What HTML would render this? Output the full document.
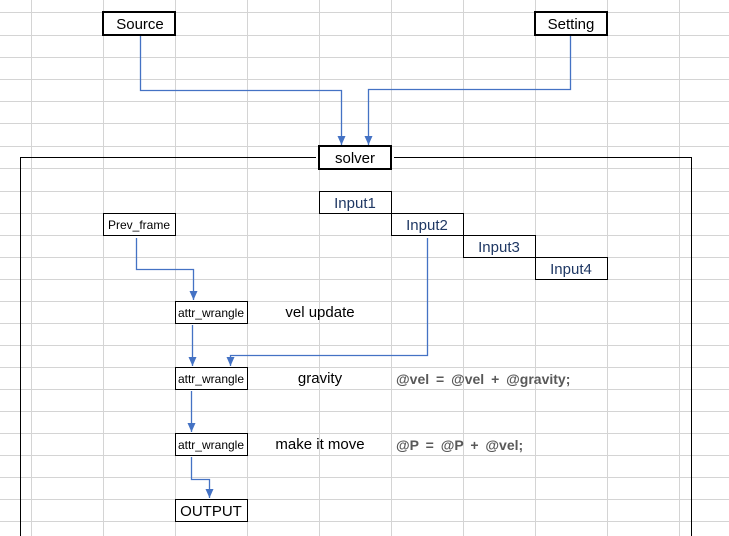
<!DOCTYPE html>
<html><head><meta charset="utf-8"><style>
body{margin:0;width:729px;height:536px;overflow:hidden;background:#fff;font-family:"Liberation Sans","Noto Sans CJK KR",sans-serif}
</style></head><body>
<svg width="729" height="536" xmlns="http://www.w3.org/2000/svg" style="position:absolute;left:0;top:0">
<defs><marker id="a" markerWidth="8" markerHeight="8" refX="4" refY="7" orient="auto" markerUnits="userSpaceOnUse"><path d="M0,0 L8,0 L4,8 z" fill="#4472c4" transform="rotate(-90 4 4)"/></marker>
<marker id="b" markerWidth="10" markerHeight="10" refX="9" refY="5" orient="auto" markerUnits="userSpaceOnUse"><path d="M0,1 L9,5 L0,9 z" fill="#4472c4"/></marker></defs>
<g stroke="#d4d4d4" stroke-width="1">
<line x1="31.5" y1="0" x2="31.5" y2="536"/><line x1="103.5" y1="0" x2="103.5" y2="536"/><line x1="175.5" y1="0" x2="175.5" y2="536"/><line x1="247.5" y1="0" x2="247.5" y2="536"/><line x1="319.5" y1="0" x2="319.5" y2="536"/><line x1="391.5" y1="0" x2="391.5" y2="536"/><line x1="463.5" y1="0" x2="463.5" y2="536"/><line x1="535.5" y1="0" x2="535.5" y2="536"/><line x1="607.5" y1="0" x2="607.5" y2="536"/><line x1="679.5" y1="0" x2="679.5" y2="536"/>
<line x1="0" y1="12.5" x2="729" y2="12.5"/><line x1="0" y1="35.5" x2="729" y2="35.5"/><line x1="0" y1="57.5" x2="729" y2="57.5"/><line x1="0" y1="79.5" x2="729" y2="79.5"/><line x1="0" y1="101.5" x2="729" y2="101.5"/><line x1="0" y1="123.5" x2="729" y2="123.5"/><line x1="0" y1="146.5" x2="729" y2="146.5"/><line x1="0" y1="168.5" x2="729" y2="168.5"/><line x1="0" y1="191.5" x2="729" y2="191.5"/><line x1="0" y1="213.5" x2="729" y2="213.5"/><line x1="0" y1="235.5" x2="729" y2="235.5"/><line x1="0" y1="257.5" x2="729" y2="257.5"/><line x1="0" y1="279.5" x2="729" y2="279.5"/><line x1="0" y1="301.5" x2="729" y2="301.5"/><line x1="0" y1="323.5" x2="729" y2="323.5"/><line x1="0" y1="345.5" x2="729" y2="345.5"/><line x1="0" y1="367.5" x2="729" y2="367.5"/><line x1="0" y1="389.5" x2="729" y2="389.5"/><line x1="0" y1="411.5" x2="729" y2="411.5"/><line x1="0" y1="433.5" x2="729" y2="433.5"/><line x1="0" y1="455.5" x2="729" y2="455.5"/><line x1="0" y1="477.5" x2="729" y2="477.5"/><line x1="0" y1="499.5" x2="729" y2="499.5"/><line x1="0" y1="521.5" x2="729" y2="521.5"/>
</g>
<g fill="none" stroke="#000" stroke-width="1">
<polyline points="20.5,536 20.5,157.5 316,157.5"/>
<polyline points="394,157.5 691.5,157.5 691.5,536"/>
</g>
<g fill="#fff" stroke="#000">
<rect x="103" y="12" width="72" height="23" stroke-width="2"/>
<rect x="535" y="12" width="72" height="23" stroke-width="2"/>
<rect x="319" y="146" width="72" height="23" stroke-width="2"/>
<rect x="319.5" y="191.5" width="72" height="22"/>
<rect x="391.5" y="213.5" width="72" height="22"/>
<rect x="463.5" y="235.5" width="72" height="22"/>
<rect x="535.5" y="257.5" width="72" height="22"/>
<rect x="103.5" y="213.5" width="72" height="22"/>
<rect x="175.5" y="301.5" width="72" height="22"/>
<rect x="175.5" y="367.5" width="72" height="22"/>
<rect x="175.5" y="433.5" width="72" height="22"/>
<rect x="175.5" y="499.5" width="72" height="22"/>
</g>
<g fill="none" stroke="#4472c4" stroke-width="1.3">
<polyline points="140.5,36 140.5,90.5 341.5,90.5 341.5,145" marker-end="url(#b)"/>
<polyline points="570.5,36 570.5,89.5 368.5,89.5 368.5,145" marker-end="url(#b)"/>
<polyline points="136.5,238 136.5,269.5 193.5,269.5 193.5,300" marker-end="url(#b)"/>
<polyline points="192.5,325 192.5,366" marker-end="url(#b)"/>
<polyline points="427.5,238 427.5,355.5 230.5,355.5 230.5,366" marker-end="url(#b)"/>
<polyline points="191.5,391 191.5,432" marker-end="url(#b)"/>
<polyline points="191.5,457 191.5,479.5 209.5,479.5 209.5,498" marker-end="url(#b)"/>
</g>
<g font-family="Liberation Sans, sans-serif" text-anchor="middle" fill="#000">
<text x="140" y="29" font-size="15">Source</text>
<text x="571" y="29" font-size="15">Setting</text>
<text x="355" y="163" font-size="15">solver</text>
<g fill="#1f3864" font-size="15">
<text x="355" y="208">Input1</text><text x="427" y="230">Input2</text><text x="499" y="252">Input3</text><text x="571" y="274">Input4</text>
</g>
<text x="139" y="229" font-size="12">Prev_frame</text>
<text x="211" y="317" font-size="12">attr_wrangle</text>
<text x="211" y="383" font-size="12">attr_wrangle</text>
<text x="211" y="449" font-size="12">attr_wrangle</text>
<text x="211" y="516" font-size="15">OUTPUT</text>
<text x="320" y="317" font-size="15">vel update</text>
<text x="320" y="383" font-size="15">gravity</text>
<text x="320" y="449" font-size="15">make it move</text>
</g>
<g font-family="Liberation Sans, sans-serif" font-size="14" font-weight="bold" fill="#595959">
<text x="396" y="384" word-spacing="3">@vel = @vel + @gravity;</text>
<text x="396" y="450" word-spacing="3">@P = @P + @vel;</text>
</g>
</svg>
</body></html>
